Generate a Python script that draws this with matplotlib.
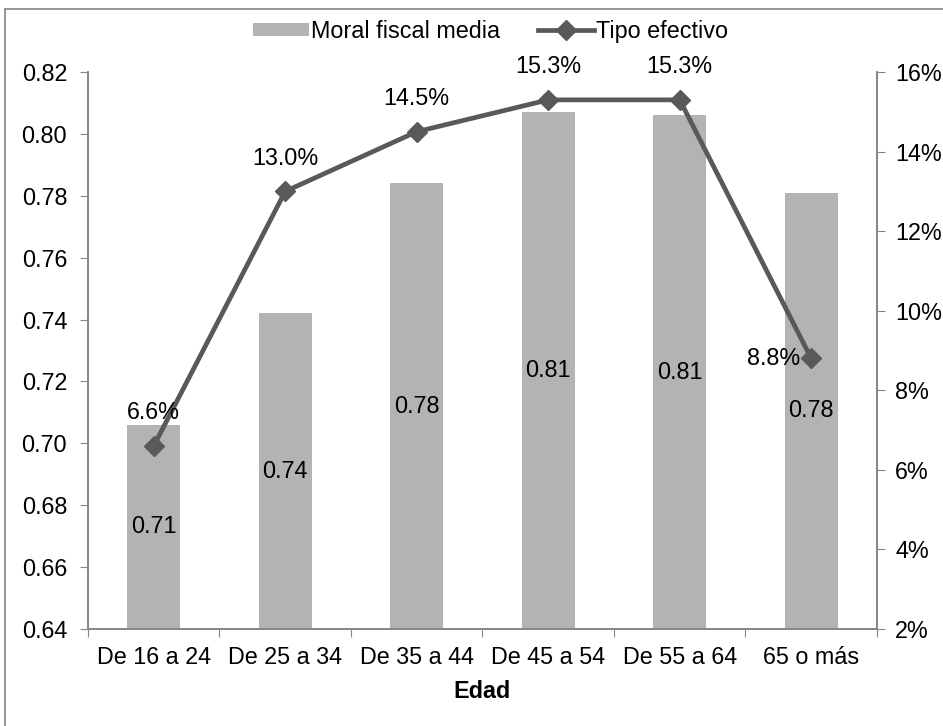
import matplotlib
matplotlib.use('Agg')
import matplotlib.pyplot as plt
from matplotlib.lines import Line2D
from matplotlib.ticker import FuncFormatter, MultipleLocator

plt.rcParams['font.family'] = ['Liberation Sans', 'DejaVu Sans']

edades = ['De 16 a 24', 'De 25 a 34', 'De 35 a 44', 'De 45 a 54', 'De 55 a 64', '65 o más']
moral = [0.706, 0.742, 0.784, 0.807, 0.806, 0.781]
tipo = [6.6, 13.0, 14.5, 15.3, 15.3, 8.8]

bar_color = '#B3B3B3'
line_color = '#595959'
spine_color = '#868686'
fs = 16.8

fig = plt.figure(figsize=(9.43, 7.26), dpi=100)
ax = fig.add_axes([0.0933, 0.1336, 0.8367, 0.7672])
ax2 = ax.twinx()

x = list(range(len(edades)))
bars = ax.bar(x, moral, width=0.4, color=bar_color, label='Moral fiscal media', zorder=2)
ax.set_xlim(-0.5, len(edades) - 0.5)
ax.set_ylim(0.64, 0.82)
ax.yaxis.set_major_locator(MultipleLocator(0.02))
ax.yaxis.set_major_formatter(FuncFormatter(lambda v, p: '%.2f' % v))

for xi, v in zip(x, moral):
    ax.text(xi, (0.64 + v) / 2, '%.2f' % v, ha='center', va='center', fontsize=fs, color='black')

ax2.plot(x, tipo, color=line_color, lw=3.4, marker='D', markersize=10, label='Tipo efectivo', zorder=3)
ax2.set_ylim(2, 16)
ax2.yaxis.set_major_locator(MultipleLocator(2))
ax2.yaxis.set_major_formatter(FuncFormatter(lambda v, p: '%d%%' % v))

for i, (xi, v) in enumerate(zip(x, tipo)):
    if i == len(tipo) - 1:
        ax2.annotate('%.1f%%' % v, (xi, v), xytext=(-8, 0), textcoords='offset points',
                     ha='right', va='center', fontsize=fs)
    else:
        ax2.annotate('%.1f%%' % v, (xi, v), xytext=(0, 24), textcoords='offset points',
                     ha='center', va='center', fontsize=fs)

# x ticks on category boundaries, labels centred
ax.set_xticks([i - 0.5 for i in range(len(edades) + 1)])
ax.set_xticklabels([])
ax.set_xticks(x, minor=True)
ax.set_xticklabels(edades, minor=True, fontsize=fs)
ax.tick_params(axis='x', which='minor', length=0, pad=12)
ax.tick_params(axis='x', which='major', length=6, color=spine_color, direction='out')
ax.tick_params(axis='y', length=6, color=spine_color, labelsize=fs, pad=9)
ax2.tick_params(axis='y', length=6, color=spine_color, labelsize=fs, pad=7)
ax.set_xlabel('Edad', fontsize=fs, fontweight='bold', labelpad=8)

for a in (ax, ax2):
    a.spines['top'].set_visible(False)
    for s in ('left', 'right', 'bottom'):
        a.spines[s].set_color(spine_color)
        a.spines[s].set_linewidth(1.2)

h1, l1 = ax.get_legend_handles_labels()
h2, l2 = ax2.get_legend_handles_labels()
fig.legend(h1 + h2, l1 + l2, loc='center', bbox_to_anchor=(0.52, 0.957), ncol=2,
           frameon=False, fontsize=fs, handlelength=2.4, handleheight=0.5,
           columnspacing=1.6, handletextpad=0.1)

# chart area border
fig.add_artist(Line2D([0.0055, 0.0055], [0.0, 0.9875], color='#8C8C8C', lw=1.3, transform=fig.transFigure))
fig.add_artist(Line2D([0.0055, 1.0], [0.9875, 0.9875], color='#8C8C8C', lw=1.3, transform=fig.transFigure))

plt.savefig('out.png', dpi=100)
